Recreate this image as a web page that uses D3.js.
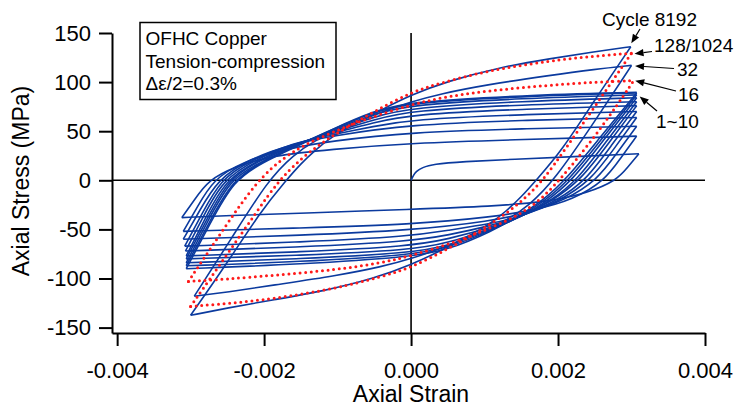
<!DOCTYPE html>
<html><head><meta charset="utf-8">
<script src="https://cdn.jsdelivr.net/npm/d3@7"></script>
<style>
html,body{margin:0;padding:0;background:#fff;}
svg{display:block;font-family:"Liberation Sans",Arial,Helvetica,sans-serif;}
</style></head><body>
<svg id="chart" width="735" height="408"></svg>
<script>
// ---------- data (strain, stress MPa) ----------
const xTicks = [-0.004, -0.002, 0, 0.002, 0.004];
const yTicks = [-150, -100, -50, 0, 50, 100, 150];

const initialLoading = [[0,0],[0.00003,5],[0.00007,9],[0.00015,13],[0.0003,16.5],[0.0007,19],[0.0014,21.5],[0.0022,24],[0.0031,27]];

// cycles 1~10, descending branches (tension tip -> compression tip)
const cyc1to10Down = [
  [[0.0031,27],[0.00295,13.5],[0.0028,0],[0.0024,-13],[0.00185,-22],[0.0011,-26.5],[0,-29.5],[-0.0015,-33.5],[-0.0025,-36],[-0.00312,-38]],
  [[0.00307,45],[0.00285,22.5],[0.00264,0],[0.0022,-20],[0.0017,-30],[0.0011,-37.5],[0,-45],[-0.0015,-48.5],[-0.0031,-52]],
  [[0.00307,55],[0.0028,27.5],[0.00253,0],[0.0021,-20],[0.0016,-33],[0.0011,-41.5],[0,-51],[-0.0015,-56],[-0.0031,-60]],
  [[0.00307,64],[0.00276,32],[0.00245,0],[0.002,-22],[0.0015,-37],[0.0011,-44],[0.0005,-51],[0,-57],[-0.0015,-63],[-0.00308,-67]],
  [[0.00307,70],[0.00272,35],[0.00238,0],[0.002,-20],[0.0015,-37],[0.0011,-46],[0.0005,-56],[0,-62],[-0.0015,-68],[-0.00307,-72]],
  [[0.00307,76],[0.00269,38],[0.00231,0],[0.0019,-22],[0.0015,-37],[0.0011,-48],[0.0005,-60],[0,-67],[-0.0015,-73],[-0.00306,-77]],
  [[0.00307,80],[0.00266,40],[0.00226,0],[0.0019,-21],[0.0015,-37],[0.0011,-49],[0.0005,-64],[0,-71],[-0.0015,-76.5],[-0.00306,-80]],
  [[0.00307,84],[0.00263,42],[0.0022,0],[0.0018,-24],[0.0015,-37],[0.0011,-50],[0.0005,-67],[0,-74],[-0.0015,-80],[-0.00306,-84]],
  [[0.00307,87],[0.00261,43.5],[0.00215,0],[0.0018,-22],[0.0015,-36],[0.0011,-51],[0.0005,-69],[0,-76],[-0.0015,-83],[-0.00306,-87]],
  [[0.00307,89],[0.00258,44.5],[0.0021,0],[0.0018,-20],[0.0015,-35],[0.0011,-52],[0.0005,-71],[0,-78],[-0.0015,-85.5],[-0.00306,-90]]
];
// cycles 1~10, ascending branches (compression tip -> next tension tip)
const cyc1to10Up = [
  [[-0.00312,-38],[-0.00294,-19],[-0.00276,0],[-0.0024,14],[-0.0019,25],[-0.0011,31.5],[0,38],[0.0015,41.5],[0.0025,43.5],[0.00307,45]],
  [[-0.0031,-52],[-0.0029,-26],[-0.0027,0],[-0.0023,19],[-0.0017,32],[-0.0011,40],[0,49],[0.0015,52.5],[0.00307,55]],
  [[-0.0031,-60],[-0.00287,-30],[-0.00264,0],[-0.0022,22],[-0.0016,37],[-0.0011,45],[0,57],[0.0015,61],[0.00307,64]],
  [[-0.00308,-67],[-0.00284,-33.5],[-0.0026,0],[-0.0022,20],[-0.0016,38],[-0.0011,46],[-0.0005,55],[0,62],[0.0015,67],[0.00307,70]],
  [[-0.00307,-72],[-0.00282,-36],[-0.00257,0],[-0.0021,22],[-0.0016,37],[-0.0011,47],[-0.0005,59],[0,67],[0.0015,72.5],[0.00307,76]],
  [[-0.00306,-77],[-0.0028,-38.5],[-0.00253,0],[-0.0021,20],[-0.0016,36],[-0.0011,48],[-0.0005,62],[0,71],[0.0015,77],[0.00307,80]],
  [[-0.00306,-80],[-0.00278,-40],[-0.0025,0],[-0.0021,19],[-0.0016,35],[-0.0011,49],[-0.0005,65],[0,74],[0.0015,80.5],[0.00307,84]],
  [[-0.00306,-84],[-0.00277,-42],[-0.00247,0],[-0.0021,17],[-0.0016,34],[-0.0011,50],[-0.0005,68],[0,77],[0.0015,83.5],[0.00307,87]],
  [[-0.00306,-87],[-0.00275,-43.5],[-0.00244,0],[-0.002,20],[-0.0016,34],[-0.0011,51],[-0.0005,70],[0,79],[0.0015,85.5],[0.00307,89]],
  [[-0.00306,-90],[-0.00274,-45],[-0.00242,0],[-0.002,19],[-0.0016,33],[-0.0011,51],[-0.0005,71],[0,80],[0.0015,86.5],[0.00307,89.5]]
];

const cycle16Down = [[0.00303,101.5],[0.0026,54],[0.00203,0],[0.0017,-24],[0.0014,-38],[0.0011,-48],[0.0006,-63],[0,-77],[-0.0004,-84],[-0.001,-91],[-0.0019,-97],[-0.0025,-100.5],[-0.00303,-103]];
const cycle16Up   = [[-0.00303,-103],[-0.0026,-55],[-0.0021,0],[-0.0017,25],[-0.0014,38],[-0.0011,48],[-0.0006,63],[0,77],[0.0004,84],[0.001,91],[0.0019,97],[0.0025,100],[0.00303,101.5]];
const cycle32Down = [[0.003,117],[0.0025,60],[0.00195,0],[0.0016,-26],[0.0013,-41],[0.001,-51],[0.0005,-67],[0,-80],[-0.0004,-88],[-0.001,-97],[-0.0019,-107],[-0.0025,-114],[-0.00295,-118]];
const cycle32Up   = [[-0.00295,-118],[-0.00245,-60],[-0.00195,0],[-0.0016,26],[-0.0013,41],[-0.001,51],[-0.0005,67],[0,80],[0.0004,88],[0.001,97],[0.0019,107],[0.0025,113],[0.003,117]];
const cycle1024Down = [[0.003,129.4],[0.0025,75],[0.0021,32],[0.0018,0],[0.0015,-22],[0.0012,-39],[0.0009,-53],[0.0005,-70],[0,-89],[-0.0004,-98],[-0.001,-110],[-0.0019,-121],[-0.0025,-125.5],[-0.003,-128.4]];
const cycle1024Up   = [[-0.003,-128.4],[-0.0025,-75],[-0.0021,-32],[-0.0018,0],[-0.0015,22],[-0.0012,39],[-0.0009,53],[-0.0005,70],[0,90],[0.0004,99],[0.001,111],[0.0019,122],[0.0025,126.5],[0.003,129.4]];
const cycle8192Down = [[0.00299,136],[0.0025,82],[0.00205,30],[0.0017,0],[0.0015,-17],[0.0013,-31],[0.00107,-45],[0.0007,-60],[0.0004,-72],[0,-86],[-0.0005,-100],[-0.0012,-113],[-0.0019,-122],[-0.0025,-130],[-0.003,-137.5]];
const cycle8192Up   = [[-0.003,-137.5],[-0.0025,-84],[-0.00205,-32],[-0.0017,0],[-0.0015,17],[-0.0013,31],[-0.00107,45],[-0.0007,60],[-0.0004,72],[0,87],[0.0005,101],[0.0012,115],[0.0019,124],[0.0025,131],[0.00299,136]];

const boxLines = ["OFHC Copper", "Tension-compression", "\u0394\u03b5/2=0.3%"];
const cycleLabels = ["Cycle 8192", "128/1024", "32", "16", "1~10"];

// ---------- drawing ----------
const svg = d3.select("#chart");
const x = d3.scaleLinear().domain([-0.00407, 0.004]).range([112, 705]);
const y = d3.scaleLinear().domain([-155.5, 150]).range([333, 33]);
const BLUE = "#0b3a9e", RED = "#ff1a1a";

// zero lines
svg.append("line").attr("x1", x.range()[0]).attr("x2", x.range()[1]).attr("y1", y(0)).attr("y2", y(0))
  .attr("stroke", "#000").attr("stroke-width", 1.6);
svg.append("line").attr("x1", x(0)).attr("x2", x(0)).attr("y1", y.range()[1]).attr("y2", y.range()[0])
  .attr("stroke", "#000").attr("stroke-width", 1.6);

const line = d3.line().x(d => x(d[0])).y(d => y(d[1])).curve(d3.curveBasis);
const sorted = pts => pts.slice().sort((a, b) => a[0] - b[0]);
const gBlue = svg.append("g").attr("fill", "none").attr("stroke", BLUE).attr("stroke-width", 1.6);
const gRed = svg.append("g").attr("fill", "none").attr("stroke", RED).attr("stroke-width", 3)
  .attr("stroke-linecap", "round").attr("stroke-dasharray", "0 5.6");

const blueBranches = [initialLoading, ...cyc1to10Down, ...cyc1to10Up, cycle32Down, cycle32Up, cycle8192Down, cycle8192Up];
blueBranches.forEach(b => gBlue.append("path").attr("d", line(sorted(b))));
[cycle16Down, cycle16Up, cycle1024Down, cycle1024Up].forEach(b => gRed.append("path").attr("d", line(sorted(b))));

// axes
const fmtX = v => d3.format(".3f")(v).replace("\u2212", "-");
const fmtY = v => String(v);
const ax = svg.append("g").attr("transform", `translate(0,${y.range()[0]})`)
  .call(d3.axisBottom(x).tickValues(xTicks).tickFormat(fmtX).tickSize(13).tickSizeOuter(0).tickPadding(16));
const ay = svg.append("g").attr("transform", `translate(${x.range()[0]},0)`)
  .call(d3.axisLeft(y).tickValues(yTicks).tickFormat(fmtY).tickSize(13).tickSizeOuter(0).tickPadding(8));
[ax, ay].forEach(g => {
  g.select(".domain").attr("stroke", "#000").attr("stroke-width", 2);
  g.selectAll(".tick line").attr("stroke", "#000").attr("stroke-width", 2);
  g.selectAll(".tick text").attr("fill", "#000").style("font-size", "22px")
    .style("font-family", '"Liberation Sans",Arial,sans-serif');
});

// axis titles
svg.append("text").attr("x", 411).attr("y", 402).attr("text-anchor", "middle")
  .style("font-size", "23px").text("Axial Strain");
svg.append("text").attr("transform", "translate(28.5,181) rotate(-90)").attr("text-anchor", "middle")
  .style("font-size", "23px").text("Axial Stress (MPa)");

// info box
svg.append("rect").attr("x", 140).attr("y", 22.5).attr("width", 196).attr("height", 77)
  .attr("fill", "#fff").attr("stroke", "#000").attr("stroke-width", 1.5);
boxLines.forEach((t, i) => svg.append("text").attr("x", 145.5).attr("y", 45 + i * 22.7)
  .style("font-size", "19px").text(t));

// cycle labels with arrows
const labelPos = [
  {t: cycleLabels[0], x: 697, y: 26, a: "end",   from: [640, 29],  tip: [cycle8192Down[0], 0.5, -3.5]},
  {t: cycleLabels[1], x: 654, y: 51.5, a: "start", from: [652, 51.5], tip: [cycle1024Down[0], 3, 0.5]},
  {t: cycleLabels[2], x: 677, y: 76, a: "start", from: [674, 68.5], tip: [cycle32Down[0], 3.5, 0.5]},
  {t: cycleLabels[3], x: 678, y: 100.5, a: "start", from: [676, 91], tip: [cycle16Down[0], 1.5, 0]},
  {t: cycleLabels[4], x: 656, y: 128, a: "start", from: [657, 111], tip: [cyc1to10Up[9][cyc1to10Up[9].length - 1], 3, 4]}
];
labelPos.forEach(l => {
  svg.append("text").attr("x", l.x).attr("y", l.y).attr("text-anchor", l.a).style("font-size", "19px").text(l.t);
  const tx = x(l.tip[0][0]) + l.tip[1], ty = y(l.tip[0][1]) + l.tip[2];
  const [fx, fy] = l.from;
  const ang = Math.atan2(ty - fy, tx - fx), len = 9, hw = 3.6;
  const bx = tx - len * Math.cos(ang), by = ty - len * Math.sin(ang);
  svg.append("line").attr("x1", fx).attr("y1", fy).attr("x2", bx).attr("y2", by)
    .attr("stroke", "#000").attr("stroke-width", 1.2);
  const px = -Math.sin(ang) * hw, py = Math.cos(ang) * hw;
  svg.append("path").attr("d", `M${tx},${ty}L${bx + px},${by + py}L${bx - px},${by - py}Z`).attr("fill", "#000");
});
</script>
</body></html>
